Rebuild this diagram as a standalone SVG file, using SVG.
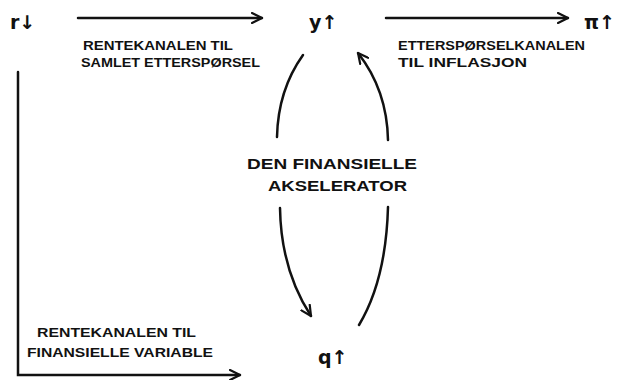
<svg xmlns="http://www.w3.org/2000/svg" width="639" height="380" viewBox="0 0 639 380">
<defs>
<marker id="ah" viewBox="0 0 12 12" refX="11" refY="6" markerWidth="12" markerHeight="12" markerUnits="userSpaceOnUse" orient="auto">
<path d="M1 1 L11 6 L1 11" fill="none" stroke="#111" stroke-width="2.2" stroke-linecap="round" stroke-linejoin="round"/>
</marker>
<style>
.c{fill:none;stroke:#111;stroke-width:2.5;stroke-linecap:round}
.n{font-family:"DejaVu Sans","Liberation Sans",sans-serif;font-weight:bold;font-size:19px;fill:#111}
.l{font-family:"Liberation Sans",sans-serif;font-weight:bold;font-size:12.5px;fill:#111}
.m{font-family:"Liberation Sans",sans-serif;font-weight:bold;font-size:15px;fill:#111}
</style>
</defs>
<rect width="639" height="380" fill="#fff"/>
<g id="connectors">
<path class="c" d="M78 18 L262 18" marker-end="url(#ah)"/>
<path class="c" d="M386 18 L568 18" marker-end="url(#ah)"/>
<path class="c" d="M18 72 L18 375 L240 375" marker-end="url(#ah)"/>
<path class="c" d="M303 55 Q278 90 277 137"/>
<path class="c" d="M388 140 Q387 90 358 53" marker-end="url(#ah)"/>
<path class="c" d="M280 208 Q281 270 311 316" marker-end="url(#ah)"/>
<path class="c" d="M388 207 Q386 280 359 325"/>
</g>
<g id="node-r"><text class="n" x="10" y="29">r↓</text></g>
<g id="node-y"><text class="n" x="309" y="29">y↑</text></g>
<g id="node-pi"><text class="n" x="584" y="29">π↑</text></g>
<g id="node-q"><text class="n" x="318" y="364">q↑</text></g>
<g id="label-1">
<text class="l" x="83" y="50" textLength="150" lengthAdjust="spacingAndGlyphs">RENTEKANALEN TIL</text>
<text class="l" x="81" y="67" textLength="179" lengthAdjust="spacingAndGlyphs">SAMLET ETTERSPØRSEL</text>
</g>
<g id="label-2">
<text class="l" x="398" y="50" textLength="187" lengthAdjust="spacingAndGlyphs">ETTERSPØRSELKANALEN</text>
<text class="l" x="398" y="67" textLength="129" lengthAdjust="spacingAndGlyphs">TIL INFLASJON</text>
</g>
<g id="label-accelerator">
<text class="m" x="247" y="169" textLength="170" lengthAdjust="spacingAndGlyphs">DEN FINANSIELLE</text>
<text class="m" x="268" y="191" textLength="139" lengthAdjust="spacingAndGlyphs">AKSELERATOR</text>
</g>
<g id="label-3">
<text class="l" x="37" y="337" textLength="159" lengthAdjust="spacingAndGlyphs">RENTEKANALEN TIL</text>
<text class="l" x="27" y="357" textLength="186" lengthAdjust="spacingAndGlyphs">FINANSIELLE VARIABLE</text>
</g>
</svg>
